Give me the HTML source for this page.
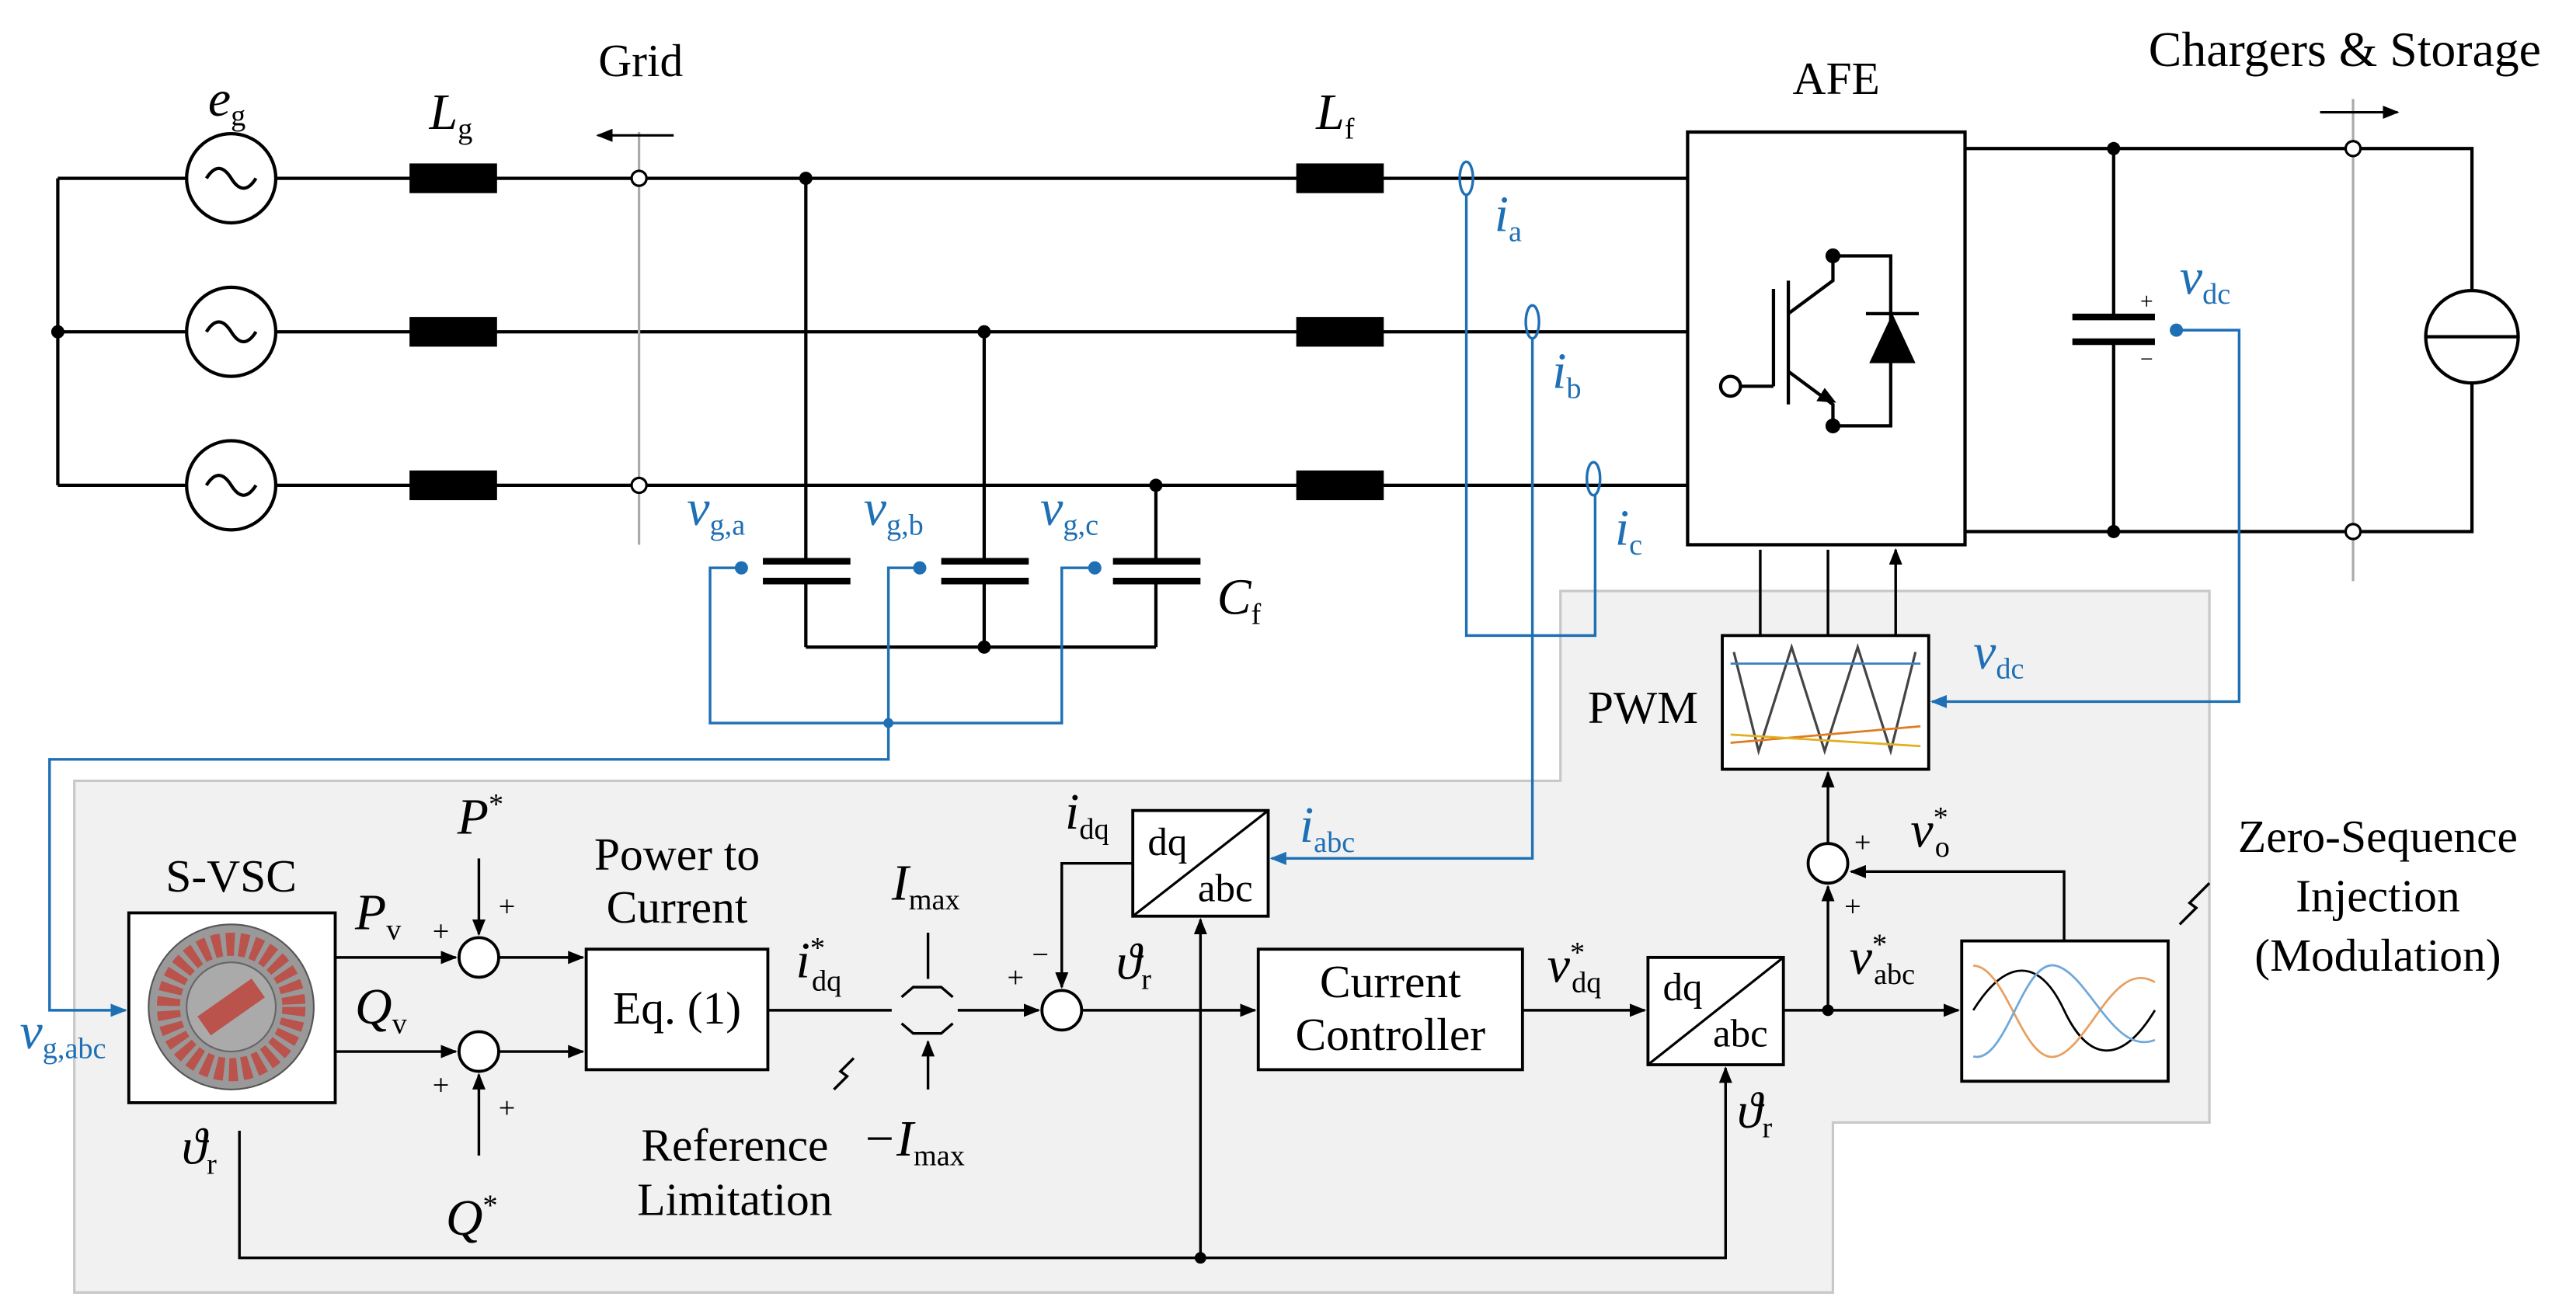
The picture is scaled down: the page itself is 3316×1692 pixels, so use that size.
<!DOCTYPE html>
<html><head><style>html,body{margin:0;padding:0;background:#fff}svg{display:block}</style></head><body>
<svg width="3316" height="1692" viewBox="0 0 1560 796" xmlns="http://www.w3.org/2000/svg" font-family="Liberation Serif, serif">
<defs>
<marker id="a" markerWidth="10" markerHeight="8" refX="9" refY="4" orient="auto" markerUnits="userSpaceOnUse"><path d="M0,0 L10,4 L0,8z" fill="#000"/></marker>
<marker id="b" markerWidth="10" markerHeight="8" refX="9" refY="4" orient="auto" markerUnits="userSpaceOnUse"><path d="M0,0 L10,4 L0,8z" fill="#1f6fb5"/></marker>
</defs>
<path d="M945,358 H1338 V680 H1110 V783 H45 V473 H945 Z" fill="#f0f1f0" stroke="#c8c8c8" stroke-width="1.5"/>
<g stroke="#000" stroke-width="2" fill="none">
<path d="M35,108 V294 M35,108 H113 M35,201 H113 M35,294 H113"/>
<path d="M167,108 H1022 M167,201 H1022 M167,294 H1022"/>
<circle cx="140" cy="108" r="27"/><circle cx="140" cy="201" r="27"/><circle cx="140" cy="294" r="27"/>
<path d="M488,108 V340 M596,201 V340 M700,294 V340 M488,352 V392 M596,352 V392 M700,352 V392 M488,392 H700"/>
<path d="M1190,90 H1497 V176 M1190,322 H1497 V232 M1280,90 V192 M1280,207 V322"/>
<circle cx="1497" cy="204" r="28"/><path d="M1469,204 H1525"/>
<rect x="1022" y="80" width="168" height="250" fill="#fff"/>
</g>
<g fill="none" stroke="#000" stroke-width="2">
<path d="M125,108 q7.5,-12 15,0 q7.5,12 15,0 M125,201 q7.5,-12 15,0 q7.5,12 15,0 M125,294 q7.5,-12 15,0 q7.5,12 15,0"/>
</g>
<g fill="#000">
<rect x="248" y="99" width="53" height="18"/><rect x="248" y="192" width="53" height="18"/><rect x="248" y="285" width="53" height="18"/>
<rect x="785" y="99" width="53" height="18"/><rect x="785" y="192" width="53" height="18"/><rect x="785" y="285" width="53" height="18"/>
<rect x="462" y="338" width="53" height="4"/><rect x="462" y="350" width="53" height="4"/>
<rect x="570" y="338" width="53" height="4"/><rect x="570" y="350" width="53" height="4"/>
<rect x="674" y="338" width="53" height="4"/><rect x="674" y="350" width="53" height="4"/>
<rect x="1255" y="190" width="50" height="4"/><rect x="1255" y="205" width="50" height="4"/>
<circle cx="35" cy="201" r="4"/><circle cx="488" cy="108" r="4"/><circle cx="596" cy="201" r="4"/><circle cx="700" cy="294" r="4"/><circle cx="596" cy="392" r="4"/>
<circle cx="1280" cy="90" r="4"/><circle cx="1280" cy="322" r="4"/>
</g>
<g stroke="#000" stroke-width="2" fill="none">
<path d="M1054,234 H1074 M1074,175 V234 M1083,170 V245 M1083,190 L1110,170 V155 M1083,225 L1110,245 V258 M1110,155 H1145 V258 H1110 M1145,190 V220"/>
<circle cx="1048" cy="234" r="6" fill="#fff"/>
</g>
<path d="M1132,220 H1160 L1146,190 Z" fill="#000"/><path d="M1130,190 H1162" stroke="#000" stroke-width="2"/>
<path d="M1112,244 l-12,-1 l5,-8z" fill="#000"/>
<circle cx="1110" cy="155" r="4.5"/><circle cx="1110" cy="258" r="4.5"/>
<g stroke="#aaa" stroke-width="1.5"><path d="M387,80 V330 M1425,60 V352"/></g>
<g fill="#fff" stroke="#000" stroke-width="1.5"><circle cx="387" cy="108" r="4.5"/><circle cx="387" cy="294" r="4.5"/><circle cx="1425" cy="90" r="4.5"/><circle cx="1425" cy="322" r="4.5"/></g>
<path d="M408,82 H362" stroke="#000" stroke-width="1.5" marker-end="url(#a)"/>
<path d="M1405,68 H1452" stroke="#000" stroke-width="1.5" marker-end="url(#a)"/>
<g stroke="#1f6fb5" stroke-width="1.6" fill="none">
<path d="M449,344 H430 V438 H643 V344 H663 M557,344 H538 V460 H30 V612 H76" marker-end="url(#b)"/>
<ellipse cx="888" cy="108" rx="4" ry="10"/><ellipse cx="928" cy="195" rx="4" ry="10"/><ellipse cx="965" cy="290" rx="4" ry="10"/>
<path d="M888,118 V385 H966 V300"/>
<path d="M928,205 V520 H770" marker-end="url(#b)"/>
<path d="M1318,200 H1356 V425 H1170" marker-end="url(#b)"/>
</g>
<g fill="#1f6fb5"><circle cx="449" cy="344" r="4"/><circle cx="557" cy="344" r="4"/><circle cx="663" cy="344" r="4"/><circle cx="538" cy="438" r="3"/><circle cx="1318" cy="200" r="4"/></g>
<g stroke="#000" stroke-width="1.8" fill="#fff">
<rect x="1043" y="385" width="125" height="81"/>
<rect x="78" y="553" width="125" height="115"/>
<rect x="355" y="575" width="110" height="73"/>
<rect x="686" y="491" width="82" height="64"/>
<rect x="762" y="575" width="160" height="73"/>
<rect x="998" y="580" width="82" height="65"/>
<rect x="1188" y="570" width="125" height="85"/>
<circle cx="290" cy="580" r="12"/><circle cx="290" cy="637" r="12"/><circle cx="643" cy="612" r="12"/><circle cx="1107" cy="523" r="12"/>
</g>
<g stroke="#000" stroke-width="1.5" fill="none">
<path d="M686,555 L768,491 M998,645 L1080,580"/>
<path d="M1050,395 L1065,455 L1085,392 L1105,455 L1125,392 L1145,455 L1160,395" stroke="#444"/>
</g>
<path d="M1048,402 H1163" stroke="#3a7fc0" stroke-width="1.3"/>
<path d="M1048,450 L1163,440" stroke="#e07b20" stroke-width="1.3"/>
<path d="M1048,445 L1163,452" stroke="#e0b020" stroke-width="1.3"/>
<g fill="none" stroke-width="1.3">
<path d="M1195,612 C1215,580 1235,580 1250,612 S1285,645 1305,612" stroke="#000"/>
<path d="M1195,585 C1215,585 1225,645 1245,640 S1280,580 1305,595" stroke="#e8a060"/>
<path d="M1195,640 C1215,645 1225,580 1245,585 S1280,640 1305,630" stroke="#70a8d8"/>
</g>
<circle cx="140" cy="610" r="50" fill="#999" stroke="#555"/>
<circle cx="140" cy="610" r="38" fill="none" stroke="#b9534b" stroke-width="14" stroke-dasharray="5 3"/>
<circle cx="140" cy="610" r="27" fill="#aaa" stroke="#666"/>
<rect x="120" y="603" width="40" height="14" fill="#b9534b" transform="rotate(-35 140 610)"/>
<g stroke="#000" stroke-width="1.6" fill="none">
<path d="M1066,385 V333 M1107,385 V333 M1148,385 V333" marker-end="url(#a)"/>
<path d="M1107,511 V468" marker-end="url(#a)"/>
<path d="M1107,612 V537" marker-end="url(#a)"/>
<path d="M1250,570 V528 H1121" marker-end="url(#a)"/>
<path d="M203,580 H276" marker-end="url(#a)"/>
<path d="M203,637 H276" marker-end="url(#a)"/>
<path d="M290,520 V566" marker-end="url(#a)"/>
<path d="M290,700 V651" marker-end="url(#a)"/>
<path d="M302,580 H353" marker-end="url(#a)"/>
<path d="M302,637 H353" marker-end="url(#a)"/>
<path d="M465,612 H540 M580,612 H629" marker-end="url(#a)"/>
<path d="M686,523 H643 V598" marker-end="url(#a)"/>
<path d="M655,612 H760" marker-end="url(#a)"/>
<path d="M922,612 H996" marker-end="url(#a)"/>
<path d="M1080,612 H1186" marker-end="url(#a)"/>
<path d="M145,685 V762 H1045 V647" marker-end="url(#a)"/>
<path d="M727,762 V557" marker-end="url(#a)"/>
<path d="M546,604 L553,598 H570 L577,604 M546,620 L553,626 H570 L577,620"/>
<path d="M562,565 V593 M562,660 V631" marker-end="url(#a)"/>
<path d="M505,660 l8,-8 -4,-3 8,-8"/>
<path d="M1320,560 l10,-10 -4,-3 12,-12"/>
</g>
<circle cx="1107" cy="612" r="3.5"/><circle cx="727" cy="762" r="3.5"/>
<g font-size="28" text-anchor="middle">
<text x="388" y="46">Grid</text><text x="1112" y="57">AFE</text><text x="1420" y="40" font-size="30">Chargers &amp; Storage</text>
<text x="995" y="438">PWM</text><text x="140" y="540">S-VSC</text>
<text x="410" y="527">Power to</text><text x="410" y="559">Current</text><text x="410" y="620">Eq. (1)</text>
<text x="842" y="604">Current</text><text x="842" y="636">Controller</text>
<text x="1440" y="516">Zero-Sequence</text><text x="1440" y="552">Injection</text><text x="1440" y="588">(Modulation)</text>
<text x="445" y="703">Reference</text><text x="445" y="736">Limitation</text>
</g>
<g font-size="24" text-anchor="middle"><text x="707" y="518">dq</text><text x="742" y="546">abc</text><text x="1019" y="606">dq</text><text x="1054" y="634">abc</text></g>
<g font-size="31" font-style="italic">
<text x="126" y="70">e<tspan font-size="18" font-style="normal" dy="6">g</tspan></text>
<text x="260" y="78">L<tspan font-size="18" font-style="normal" dy="6">g</tspan></text>
<text x="797" y="78">L<tspan font-size="18" font-style="normal" dy="6">f</tspan></text>
<text x="737" y="372">C<tspan font-size="18" font-style="normal" dy="6">f</tspan></text>
<text x="277" y="505">P<tspan font-size="18" font-style="normal" dy="-12">*</tspan></text>
<text x="270" y="748">Q<tspan font-size="18" font-style="normal" dy="-12">*</tspan></text>
<text x="215" y="563">P<tspan font-size="18" font-style="normal" dy="6">v</tspan></text>
<text x="215" y="620">Q<tspan font-size="18" font-style="normal" dy="6">v</tspan></text>
<text x="110" y="705">ϑ<tspan font-size="18" font-style="normal" dy="6">r</tspan></text>
<text x="676" y="593">ϑ<tspan font-size="18" font-style="normal" dy="6">r</tspan></text>
<text x="1052" y="683">ϑ<tspan font-size="18" font-style="normal" dy="6">r</tspan></text>
<text x="482" y="592">i<tspan font-size="18" font-style="normal" dy="-12">*</tspan><tspan font-size="18" font-style="normal" dx="-8" dy="20">dq</tspan></text>
<text x="645" y="502">i<tspan font-size="18" font-style="normal" dy="6">dq</tspan></text>
<text x="540" y="545">I<tspan font-size="18" font-style="normal" dy="6">max</tspan></text>
<text x="522" y="700">−I<tspan font-size="18" font-style="normal" dy="6">max</tspan></text>
<text x="937" y="595">v<tspan font-size="18" font-style="normal" dy="-12">*</tspan><tspan font-size="18" font-style="normal" dx="-8" dy="18">dq</tspan></text>
<text x="1120" y="590">v<tspan font-size="18" font-style="normal" dy="-12">*</tspan><tspan font-size="18" font-style="normal" dx="-8" dy="18">abc</tspan></text>
<text x="1157" y="513">v<tspan font-size="18" font-style="normal" dy="-12">*</tspan><tspan font-size="18" font-style="normal" dx="-8" dy="18">o</tspan></text>
</g>
<g font-size="31" font-style="italic" fill="#1f6fb5">
<text x="905" y="140">i<tspan font-size="18" font-style="normal" dy="6">a</tspan></text>
<text x="940" y="235">i<tspan font-size="18" font-style="normal" dy="6">b</tspan></text>
<text x="978" y="330">i<tspan font-size="18" font-style="normal" dy="6">c</tspan></text>
<text x="416" y="318">v<tspan font-size="18" font-style="normal" dy="6">g,a</tspan></text>
<text x="523" y="318">v<tspan font-size="18" font-style="normal" dy="6">g,b</tspan></text>
<text x="630" y="318">v<tspan font-size="18" font-style="normal" dy="6">g,c</tspan></text>
<text x="1320" y="178">v<tspan font-size="18" font-style="normal" dy="6">dc</tspan></text>
<text x="1195" y="405">v<tspan font-size="18" font-style="normal" dy="6">dc</tspan></text>
<text x="787" y="510">i<tspan font-size="18" font-style="normal" dy="6">abc</tspan></text>
<text x="12" y="635">v<tspan font-size="18" font-style="normal" dy="6">g,abc</tspan></text>
</g>
<g font-size="18" text-anchor="middle">
<text x="267" y="570">+</text><text x="307" y="555">+</text><text x="267" y="663">+</text><text x="307" y="677">+</text>
<text x="615" y="598">+</text><text x="630" y="584">−</text><text x="1128" y="516">+</text><text x="1122" y="555">+</text>
<text x="1300" y="187" font-size="14">+</text><text x="1300" y="222" font-size="14">−</text>
</g>
</svg>
</body></html>
